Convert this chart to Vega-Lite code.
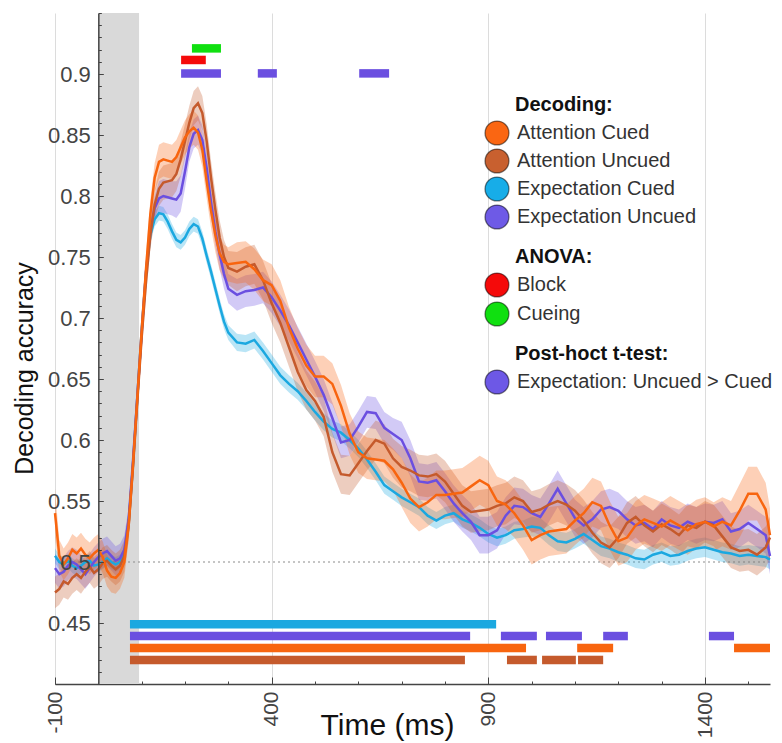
{
"$schema":"https://vega.github.io/schema/vega-lite/v6.json",
"width":715,"height":671,
"autosize":{"type":"none"},
"padding":{"left":55,"top":13,"right":12,"bottom":59},
"config":{"view":{"stroke":null},"font":"Liberation Sans",
 "legend":{"orient":"none","titleFontSize":20,"titleFontWeight":"bold","titleColor":"#111","labelFontSize":20,"labelColor":"#333","symbolType":"circle","symbolSize":570,"symbolStrokeColor":"rgba(0,0,0,0.5)","symbolStrokeWidth":1.3,"symbolOpacity":1,"rowPadding":0,"titlePadding":5,"labelLimit":400,"titleLimit":400,"symbolOffset":-31,"labelOffset":7}},
"datasets":{
"stim":[{"a":0,"b":94}],
"curves":[
{"t":-100,"s":"EC","m":0.505,"e":0.006},{"t":-90,"s":"EC","m":0.500,"e":0.006},{"t":-80,"s":"EC","m":0.498,"e":0.006},{"t":-70,"s":"EC","m":0.501,"e":0.006},{"t":-60,"s":"EC","m":0.497,"e":0.006},{"t":-50,"s":"EC","m":0.495,"e":0.006},{"t":-40,"s":"EC","m":0.497,"e":0.006},{"t":-30,"s":"EC","m":0.500,"e":0.006},{"t":-20,"s":"EC","m":0.501,"e":0.006},{"t":-10,"s":"EC","m":0.497,"e":0.006},{"t":0,"s":"EC","m":0.498,"e":0.006},{"t":10,"s":"EC","m":0.500,"e":0.006},{"t":20,"s":"EC","m":0.503,"e":0.006},{"t":30,"s":"EC","m":0.500,"e":0.006},{"t":40,"s":"EC","m":0.498,"e":0.006},{"t":50,"s":"EC","m":0.500,"e":0.006},{"t":60,"s":"EC","m":0.506,"e":0.006},{"t":70,"s":"EC","m":0.532,"e":0.006},{"t":80,"s":"EC","m":0.580,"e":0.006},{"t":90,"s":"EC","m":0.635,"e":0.006},{"t":100,"s":"EC","m":0.690,"e":0.006},{"t":110,"s":"EC","m":0.737,"e":0.006},{"t":120,"s":"EC","m":0.768,"e":0.006},{"t":130,"s":"EC","m":0.781,"e":0.006},{"t":140,"s":"EC","m":0.786,"e":0.006},{"t":150,"s":"EC","m":0.785,"e":0.006},{"t":160,"s":"EC","m":0.779,"e":0.006},{"t":170,"s":"EC","m":0.771,"e":0.006},{"t":180,"s":"EC","m":0.764,"e":0.006},{"t":190,"s":"EC","m":0.762,"e":0.006},{"t":200,"s":"EC","m":0.766,"e":0.006},{"t":210,"s":"EC","m":0.773,"e":0.006},{"t":220,"s":"EC","m":0.777,"e":0.006},{"t":230,"s":"EC","m":0.775,"e":0.006},{"t":240,"s":"EC","m":0.765,"e":0.006},{"t":250,"s":"EC","m":0.751,"e":0.006},{"t":260,"s":"EC","m":0.738,"e":0.006},{"t":270,"s":"EC","m":0.724,"e":0.006},{"t":280,"s":"EC","m":0.710,"e":0.006},{"t":290,"s":"EC","m":0.697,"e":0.006},{"t":300,"s":"EC","m":0.688,"e":0.006},{"t":320,"s":"EC","m":0.680,"e":0.007},{"t":340,"s":"EC","m":0.679,"e":0.007},{"t":360,"s":"EC","m":0.682,"e":0.007},{"t":380,"s":"EC","m":0.673,"e":0.007},{"t":400,"s":"EC","m":0.663,"e":0.007},{"t":420,"s":"EC","m":0.653,"e":0.007},{"t":440,"s":"EC","m":0.646,"e":0.007},{"t":460,"s":"EC","m":0.640,"e":0.007},{"t":480,"s":"EC","m":0.632,"e":0.007},{"t":500,"s":"EC","m":0.623,"e":0.007},{"t":520,"s":"EC","m":0.615,"e":0.007},{"t":540,"s":"EC","m":0.609,"e":0.007},{"t":560,"s":"EC","m":0.606,"e":0.007},{"t":580,"s":"EC","m":0.600,"e":0.007},{"t":600,"s":"EC","m":0.593,"e":0.007},{"t":620,"s":"EC","m":0.584,"e":0.007},{"t":640,"s":"EC","m":0.574,"e":0.007},{"t":660,"s":"EC","m":0.563,"e":0.007},{"t":680,"s":"EC","m":0.558,"e":0.007},{"t":700,"s":"EC","m":0.553,"e":0.007},{"t":720,"s":"EC","m":0.549,"e":0.007},{"t":740,"s":"EC","m":0.545,"e":0.007},{"t":760,"s":"EC","m":0.538,"e":0.007},{"t":780,"s":"EC","m":0.534,"e":0.007},{"t":800,"s":"EC","m":0.538,"e":0.007},{"t":820,"s":"EC","m":0.540,"e":0.007},{"t":840,"s":"EC","m":0.535,"e":0.007},{"t":860,"s":"EC","m":0.532,"e":0.007},{"t":880,"s":"EC","m":0.528,"e":0.007},{"t":900,"s":"EC","m":0.523,"e":0.007},{"t":920,"s":"EC","m":0.520,"e":0.007},{"t":940,"s":"EC","m":0.522,"e":0.007},{"t":960,"s":"EC","m":0.526,"e":0.007},{"t":980,"s":"EC","m":0.527,"e":0.007},{"t":1000,"s":"EC","m":0.529,"e":0.008},{"t":1020,"s":"EC","m":0.528,"e":0.008},{"t":1040,"s":"EC","m":0.522,"e":0.008},{"t":1060,"s":"EC","m":0.517,"e":0.008},{"t":1080,"s":"EC","m":0.516,"e":0.008},{"t":1100,"s":"EC","m":0.519,"e":0.008},{"t":1120,"s":"EC","m":0.523,"e":0.008},{"t":1140,"s":"EC","m":0.518,"e":0.008},{"t":1160,"s":"EC","m":0.513,"e":0.008},{"t":1180,"s":"EC","m":0.511,"e":0.008},{"t":1200,"s":"EC","m":0.508,"e":0.008},{"t":1220,"s":"EC","m":0.506,"e":0.008},{"t":1240,"s":"EC","m":0.503,"e":0.008},{"t":1260,"s":"EC","m":0.502,"e":0.008},{"t":1280,"s":"EC","m":0.506,"e":0.008},{"t":1300,"s":"EC","m":0.508,"e":0.008},{"t":1320,"s":"EC","m":0.505,"e":0.008},{"t":1340,"s":"EC","m":0.506,"e":0.008},{"t":1360,"s":"EC","m":0.509,"e":0.008},{"t":1380,"s":"EC","m":0.511,"e":0.008},{"t":1400,"s":"EC","m":0.512,"e":0.008},{"t":1420,"s":"EC","m":0.510,"e":0.008},{"t":1440,"s":"EC","m":0.508,"e":0.008},{"t":1460,"s":"EC","m":0.507,"e":0.008},{"t":1480,"s":"EC","m":0.505,"e":0.008},{"t":1500,"s":"EC","m":0.506,"e":0.008},{"t":1520,"s":"EC","m":0.505,"e":0.008},{"t":1540,"s":"EC","m":0.504,"e":0.008},{"t":1550,"s":"EC","m":0.502,"e":0.008},
{"t":-100,"s":"EU","m":0.495,"e":0.012},{"t":-90,"s":"EU","m":0.490,"e":0.012},{"t":-80,"s":"EU","m":0.492,"e":0.012},{"t":-70,"s":"EU","m":0.497,"e":0.012},{"t":-60,"s":"EU","m":0.500,"e":0.012},{"t":-50,"s":"EU","m":0.498,"e":0.012},{"t":-40,"s":"EU","m":0.494,"e":0.012},{"t":-30,"s":"EU","m":0.490,"e":0.012},{"t":-20,"s":"EU","m":0.495,"e":0.012},{"t":-10,"s":"EU","m":0.500,"e":0.012},{"t":0,"s":"EU","m":0.504,"e":0.012},{"t":10,"s":"EU","m":0.507,"e":0.012},{"t":20,"s":"EU","m":0.509,"e":0.012},{"t":30,"s":"EU","m":0.505,"e":0.012},{"t":40,"s":"EU","m":0.501,"e":0.012},{"t":50,"s":"EU","m":0.503,"e":0.012},{"t":60,"s":"EU","m":0.510,"e":0.012},{"t":70,"s":"EU","m":0.535,"e":0.010},{"t":80,"s":"EU","m":0.583,"e":0.010},{"t":90,"s":"EU","m":0.636,"e":0.010},{"t":100,"s":"EU","m":0.688,"e":0.010},{"t":110,"s":"EU","m":0.738,"e":0.010},{"t":120,"s":"EU","m":0.772,"e":0.010},{"t":130,"s":"EU","m":0.790,"e":0.010},{"t":140,"s":"EU","m":0.798,"e":0.014},{"t":150,"s":"EU","m":0.800,"e":0.014},{"t":160,"s":"EU","m":0.799,"e":0.014},{"t":170,"s":"EU","m":0.798,"e":0.014},{"t":180,"s":"EU","m":0.797,"e":0.015},{"t":190,"s":"EU","m":0.802,"e":0.015},{"t":200,"s":"EU","m":0.820,"e":0.014},{"t":210,"s":"EU","m":0.840,"e":0.012},{"t":220,"s":"EU","m":0.851,"e":0.012},{"t":230,"s":"EU","m":0.854,"e":0.012},{"t":240,"s":"EU","m":0.846,"e":0.012},{"t":250,"s":"EU","m":0.823,"e":0.012},{"t":260,"s":"EU","m":0.795,"e":0.012},{"t":270,"s":"EU","m":0.771,"e":0.012},{"t":280,"s":"EU","m":0.752,"e":0.012},{"t":290,"s":"EU","m":0.736,"e":0.012},{"t":300,"s":"EU","m":0.724,"e":0.012},{"t":320,"s":"EU","m":0.719,"e":0.013},{"t":340,"s":"EU","m":0.722,"e":0.013},{"t":360,"s":"EU","m":0.723,"e":0.013},{"t":380,"s":"EU","m":0.725,"e":0.013},{"t":400,"s":"EU","m":0.717,"e":0.013},{"t":420,"s":"EU","m":0.706,"e":0.013},{"t":440,"s":"EU","m":0.694,"e":0.013},{"t":460,"s":"EU","m":0.680,"e":0.013},{"t":480,"s":"EU","m":0.666,"e":0.013},{"t":500,"s":"EU","m":0.652,"e":0.013},{"t":520,"s":"EU","m":0.637,"e":0.013},{"t":540,"s":"EU","m":0.618,"e":0.013},{"t":560,"s":"EU","m":0.598,"e":0.013},{"t":580,"s":"EU","m":0.600,"e":0.013},{"t":600,"s":"EU","m":0.611,"e":0.013},{"t":620,"s":"EU","m":0.623,"e":0.013},{"t":640,"s":"EU","m":0.622,"e":0.013},{"t":660,"s":"EU","m":0.610,"e":0.013},{"t":680,"s":"EU","m":0.605,"e":0.013},{"t":700,"s":"EU","m":0.600,"e":0.015},{"t":720,"s":"EU","m":0.585,"e":0.015},{"t":740,"s":"EU","m":0.566,"e":0.015},{"t":760,"s":"EU","m":0.565,"e":0.015},{"t":780,"s":"EU","m":0.567,"e":0.015},{"t":800,"s":"EU","m":0.558,"e":0.015},{"t":820,"s":"EU","m":0.548,"e":0.015},{"t":840,"s":"EU","m":0.540,"e":0.015},{"t":860,"s":"EU","m":0.533,"e":0.015},{"t":880,"s":"EU","m":0.522,"e":0.015},{"t":900,"s":"EU","m":0.522,"e":0.015},{"t":920,"s":"EU","m":0.526,"e":0.015},{"t":940,"s":"EU","m":0.538,"e":0.015},{"t":960,"s":"EU","m":0.546,"e":0.015},{"t":980,"s":"EU","m":0.545,"e":0.015},{"t":1000,"s":"EU","m":0.540,"e":0.015},{"t":1020,"s":"EU","m":0.537,"e":0.015},{"t":1040,"s":"EU","m":0.548,"e":0.015},{"t":1060,"s":"EU","m":0.560,"e":0.015},{"t":1080,"s":"EU","m":0.548,"e":0.015},{"t":1100,"s":"EU","m":0.536,"e":0.015},{"t":1120,"s":"EU","m":0.530,"e":0.015},{"t":1140,"s":"EU","m":0.535,"e":0.015},{"t":1160,"s":"EU","m":0.543,"e":0.015},{"t":1180,"s":"EU","m":0.545,"e":0.015},{"t":1200,"s":"EU","m":0.542,"e":0.015},{"t":1220,"s":"EU","m":0.535,"e":0.015},{"t":1240,"s":"EU","m":0.530,"e":0.015},{"t":1260,"s":"EU","m":0.532,"e":0.015},{"t":1280,"s":"EU","m":0.527,"e":0.015},{"t":1300,"s":"EU","m":0.535,"e":0.015},{"t":1320,"s":"EU","m":0.530,"e":0.015},{"t":1340,"s":"EU","m":0.528,"e":0.015},{"t":1360,"s":"EU","m":0.533,"e":0.015},{"t":1380,"s":"EU","m":0.530,"e":0.015},{"t":1400,"s":"EU","m":0.533,"e":0.015},{"t":1420,"s":"EU","m":0.532,"e":0.015},{"t":1440,"s":"EU","m":0.535,"e":0.015},{"t":1460,"s":"EU","m":0.525,"e":0.015},{"t":1480,"s":"EU","m":0.527,"e":0.015},{"t":1500,"s":"EU","m":0.532,"e":0.015},{"t":1520,"s":"EU","m":0.527,"e":0.015},{"t":1540,"s":"EU","m":0.522,"e":0.015},{"t":1550,"s":"EU","m":0.505,"e":0.015},
{"t":-100,"s":"AU","m":0.475,"e":0.013},{"t":-90,"s":"AU","m":0.478,"e":0.013},{"t":-80,"s":"AU","m":0.484,"e":0.013},{"t":-70,"s":"AU","m":0.482,"e":0.013},{"t":-60,"s":"AU","m":0.487,"e":0.013},{"t":-50,"s":"AU","m":0.490,"e":0.013},{"t":-40,"s":"AU","m":0.487,"e":0.013},{"t":-30,"s":"AU","m":0.492,"e":0.013},{"t":-20,"s":"AU","m":0.496,"e":0.013},{"t":-10,"s":"AU","m":0.491,"e":0.013},{"t":0,"s":"AU","m":0.494,"e":0.013},{"t":10,"s":"AU","m":0.499,"e":0.013},{"t":20,"s":"AU","m":0.501,"e":0.013},{"t":30,"s":"AU","m":0.497,"e":0.013},{"t":40,"s":"AU","m":0.494,"e":0.013},{"t":50,"s":"AU","m":0.497,"e":0.013},{"t":60,"s":"AU","m":0.505,"e":0.013},{"t":70,"s":"AU","m":0.530,"e":0.012},{"t":80,"s":"AU","m":0.578,"e":0.012},{"t":90,"s":"AU","m":0.632,"e":0.012},{"t":100,"s":"AU","m":0.684,"e":0.012},{"t":110,"s":"AU","m":0.730,"e":0.012},{"t":120,"s":"AU","m":0.768,"e":0.012},{"t":130,"s":"AU","m":0.793,"e":0.012},{"t":140,"s":"AU","m":0.806,"e":0.014},{"t":150,"s":"AU","m":0.811,"e":0.014},{"t":160,"s":"AU","m":0.812,"e":0.014},{"t":170,"s":"AU","m":0.813,"e":0.014},{"t":180,"s":"AU","m":0.818,"e":0.014},{"t":190,"s":"AU","m":0.830,"e":0.014},{"t":200,"s":"AU","m":0.845,"e":0.014},{"t":210,"s":"AU","m":0.860,"e":0.014},{"t":220,"s":"AU","m":0.872,"e":0.014},{"t":230,"s":"AU","m":0.876,"e":0.014},{"t":240,"s":"AU","m":0.868,"e":0.014},{"t":250,"s":"AU","m":0.845,"e":0.014},{"t":260,"s":"AU","m":0.815,"e":0.014},{"t":270,"s":"AU","m":0.789,"e":0.014},{"t":280,"s":"AU","m":0.766,"e":0.014},{"t":290,"s":"AU","m":0.750,"e":0.014},{"t":300,"s":"AU","m":0.741,"e":0.014},{"t":320,"s":"AU","m":0.738,"e":0.016},{"t":340,"s":"AU","m":0.742,"e":0.016},{"t":360,"s":"AU","m":0.744,"e":0.016},{"t":380,"s":"AU","m":0.731,"e":0.016},{"t":400,"s":"AU","m":0.712,"e":0.016},{"t":420,"s":"AU","m":0.696,"e":0.016},{"t":440,"s":"AU","m":0.676,"e":0.016},{"t":460,"s":"AU","m":0.656,"e":0.016},{"t":480,"s":"AU","m":0.641,"e":0.016},{"t":500,"s":"AU","m":0.632,"e":0.016},{"t":520,"s":"AU","m":0.619,"e":0.016},{"t":540,"s":"AU","m":0.590,"e":0.016},{"t":560,"s":"AU","m":0.572,"e":0.016},{"t":580,"s":"AU","m":0.571,"e":0.016},{"t":600,"s":"AU","m":0.581,"e":0.016},{"t":620,"s":"AU","m":0.591,"e":0.016},{"t":640,"s":"AU","m":0.600,"e":0.016},{"t":660,"s":"AU","m":0.597,"e":0.016},{"t":680,"s":"AU","m":0.585,"e":0.016},{"t":700,"s":"AU","m":0.578,"e":0.017},{"t":720,"s":"AU","m":0.575,"e":0.017},{"t":740,"s":"AU","m":0.571,"e":0.017},{"t":760,"s":"AU","m":0.570,"e":0.017},{"t":780,"s":"AU","m":0.572,"e":0.017},{"t":800,"s":"AU","m":0.566,"e":0.017},{"t":820,"s":"AU","m":0.556,"e":0.017},{"t":840,"s":"AU","m":0.546,"e":0.017},{"t":860,"s":"AU","m":0.541,"e":0.017},{"t":880,"s":"AU","m":0.542,"e":0.017},{"t":900,"s":"AU","m":0.543,"e":0.017},{"t":920,"s":"AU","m":0.546,"e":0.017},{"t":940,"s":"AU","m":0.548,"e":0.017},{"t":960,"s":"AU","m":0.553,"e":0.017},{"t":980,"s":"AU","m":0.550,"e":0.017},{"t":1000,"s":"AU","m":0.541,"e":0.017},{"t":1020,"s":"AU","m":0.543,"e":0.017},{"t":1040,"s":"AU","m":0.547,"e":0.017},{"t":1060,"s":"AU","m":0.550,"e":0.017},{"t":1080,"s":"AU","m":0.547,"e":0.017},{"t":1100,"s":"AU","m":0.542,"e":0.017},{"t":1120,"s":"AU","m":0.534,"e":0.017},{"t":1140,"s":"AU","m":0.524,"e":0.017},{"t":1160,"s":"AU","m":0.516,"e":0.017},{"t":1180,"s":"AU","m":0.512,"e":0.017},{"t":1200,"s":"AU","m":0.520,"e":0.017},{"t":1220,"s":"AU","m":0.532,"e":0.017},{"t":1240,"s":"AU","m":0.537,"e":0.017},{"t":1260,"s":"AU","m":0.530,"e":0.017},{"t":1280,"s":"AU","m":0.525,"e":0.017},{"t":1300,"s":"AU","m":0.531,"e":0.017},{"t":1320,"s":"AU","m":0.527,"e":0.017},{"t":1340,"s":"AU","m":0.522,"e":0.017},{"t":1360,"s":"AU","m":0.530,"e":0.017},{"t":1380,"s":"AU","m":0.528,"e":0.017},{"t":1400,"s":"AU","m":0.533,"e":0.017},{"t":1420,"s":"AU","m":0.530,"e":0.017},{"t":1440,"s":"AU","m":0.521,"e":0.017},{"t":1460,"s":"AU","m":0.512,"e":0.017},{"t":1480,"s":"AU","m":0.509,"e":0.017},{"t":1500,"s":"AU","m":0.510,"e":0.017},{"t":1520,"s":"AU","m":0.506,"e":0.017},{"t":1540,"s":"AU","m":0.512,"e":0.017},{"t":1550,"s":"AU","m":0.520,"e":0.017},
{"t":-100,"s":"AC","m":0.540,"e":0.020},{"t":-90,"s":"AC","m":0.505,"e":0.013},{"t":-80,"s":"AC","m":0.498,"e":0.013},{"t":-70,"s":"AC","m":0.503,"e":0.013},{"t":-60,"s":"AC","m":0.510,"e":0.013},{"t":-50,"s":"AC","m":0.507,"e":0.013},{"t":-40,"s":"AC","m":0.511,"e":0.013},{"t":-30,"s":"AC","m":0.506,"e":0.013},{"t":-20,"s":"AC","m":0.503,"e":0.013},{"t":-10,"s":"AC","m":0.507,"e":0.013},{"t":0,"s":"AC","m":0.510,"e":0.013},{"t":10,"s":"AC","m":0.504,"e":0.013},{"t":20,"s":"AC","m":0.493,"e":0.013},{"t":30,"s":"AC","m":0.488,"e":0.013},{"t":40,"s":"AC","m":0.487,"e":0.013},{"t":50,"s":"AC","m":0.491,"e":0.013},{"t":60,"s":"AC","m":0.500,"e":0.013},{"t":70,"s":"AC","m":0.530,"e":0.012},{"t":80,"s":"AC","m":0.580,"e":0.012},{"t":90,"s":"AC","m":0.635,"e":0.012},{"t":100,"s":"AC","m":0.690,"e":0.012},{"t":110,"s":"AC","m":0.740,"e":0.012},{"t":120,"s":"AC","m":0.785,"e":0.012},{"t":130,"s":"AC","m":0.815,"e":0.012},{"t":140,"s":"AC","m":0.828,"e":0.014},{"t":150,"s":"AC","m":0.830,"e":0.014},{"t":160,"s":"AC","m":0.829,"e":0.014},{"t":170,"s":"AC","m":0.828,"e":0.014},{"t":180,"s":"AC","m":0.832,"e":0.014},{"t":190,"s":"AC","m":0.840,"e":0.014},{"t":200,"s":"AC","m":0.848,"e":0.014},{"t":210,"s":"AC","m":0.853,"e":0.014},{"t":220,"s":"AC","m":0.856,"e":0.014},{"t":230,"s":"AC","m":0.852,"e":0.014},{"t":240,"s":"AC","m":0.838,"e":0.014},{"t":250,"s":"AC","m":0.812,"e":0.014},{"t":260,"s":"AC","m":0.788,"e":0.014},{"t":270,"s":"AC","m":0.768,"e":0.014},{"t":280,"s":"AC","m":0.753,"e":0.014},{"t":290,"s":"AC","m":0.746,"e":0.014},{"t":300,"s":"AC","m":0.744,"e":0.014},{"t":320,"s":"AC","m":0.745,"e":0.017},{"t":340,"s":"AC","m":0.746,"e":0.017},{"t":360,"s":"AC","m":0.740,"e":0.017},{"t":380,"s":"AC","m":0.731,"e":0.017},{"t":400,"s":"AC","m":0.727,"e":0.017},{"t":420,"s":"AC","m":0.714,"e":0.017},{"t":440,"s":"AC","m":0.692,"e":0.017},{"t":460,"s":"AC","m":0.675,"e":0.017},{"t":480,"s":"AC","m":0.661,"e":0.017},{"t":500,"s":"AC","m":0.652,"e":0.017},{"t":520,"s":"AC","m":0.652,"e":0.017},{"t":540,"s":"AC","m":0.646,"e":0.017},{"t":560,"s":"AC","m":0.628,"e":0.017},{"t":580,"s":"AC","m":0.605,"e":0.017},{"t":600,"s":"AC","m":0.590,"e":0.017},{"t":620,"s":"AC","m":0.585,"e":0.017},{"t":640,"s":"AC","m":0.584,"e":0.017},{"t":660,"s":"AC","m":0.583,"e":0.017},{"t":680,"s":"AC","m":0.576,"e":0.017},{"t":700,"s":"AC","m":0.565,"e":0.020},{"t":720,"s":"AC","m":0.552,"e":0.020},{"t":740,"s":"AC","m":0.545,"e":0.020},{"t":760,"s":"AC","m":0.549,"e":0.020},{"t":780,"s":"AC","m":0.555,"e":0.020},{"t":800,"s":"AC","m":0.555,"e":0.020},{"t":820,"s":"AC","m":0.556,"e":0.020},{"t":840,"s":"AC","m":0.557,"e":0.020},{"t":860,"s":"AC","m":0.562,"e":0.020},{"t":880,"s":"AC","m":0.567,"e":0.020},{"t":900,"s":"AC","m":0.563,"e":0.020},{"t":920,"s":"AC","m":0.550,"e":0.020},{"t":940,"s":"AC","m":0.547,"e":0.020},{"t":960,"s":"AC","m":0.540,"e":0.020},{"t":980,"s":"AC","m":0.530,"e":0.020},{"t":1000,"s":"AC","m":0.518,"e":0.020},{"t":1020,"s":"AC","m":0.522,"e":0.020},{"t":1040,"s":"AC","m":0.525,"e":0.020},{"t":1060,"s":"AC","m":0.526,"e":0.020},{"t":1080,"s":"AC","m":0.527,"e":0.020},{"t":1100,"s":"AC","m":0.534,"e":0.020},{"t":1120,"s":"AC","m":0.540,"e":0.020},{"t":1140,"s":"AC","m":0.549,"e":0.020},{"t":1160,"s":"AC","m":0.546,"e":0.020},{"t":1180,"s":"AC","m":0.530,"e":0.020},{"t":1200,"s":"AC","m":0.517,"e":0.020},{"t":1220,"s":"AC","m":0.520,"e":0.020},{"t":1240,"s":"AC","m":0.530,"e":0.020},{"t":1260,"s":"AC","m":0.535,"e":0.020},{"t":1280,"s":"AC","m":0.532,"e":0.020},{"t":1300,"s":"AC","m":0.529,"e":0.020},{"t":1320,"s":"AC","m":0.534,"e":0.020},{"t":1340,"s":"AC","m":0.530,"e":0.020},{"t":1360,"s":"AC","m":0.526,"e":0.020},{"t":1380,"s":"AC","m":0.531,"e":0.020},{"t":1400,"s":"AC","m":0.533,"e":0.020},{"t":1420,"s":"AC","m":0.529,"e":0.020},{"t":1440,"s":"AC","m":0.533,"e":0.020},{"t":1460,"s":"AC","m":0.530,"e":0.020},{"t":1480,"s":"AC","m":0.542,"e":0.022},{"t":1500,"s":"AC","m":0.556,"e":0.022},{"t":1520,"s":"AC","m":0.556,"e":0.022},{"t":1540,"s":"AC","m":0.543,"e":0.022},{"t":1550,"s":"AC","m":0.522,"e":0.022}
],
"bot":[
{"g":"EC","a":73,"b":918,"lvl":0.449},
{"g":"EU","a":73,"b":858,"lvl":0.4393},{"g":"EU","a":929,"b":1012,"lvl":0.4393},{"g":"EU","a":1033,"b":1116,"lvl":0.4393},{"g":"EU","a":1165,"b":1222,"lvl":0.4393},{"g":"EU","a":1409,"b":1467,"lvl":0.4393},
{"g":"AC","a":73,"b":987,"lvl":0.4295},{"g":"AC","a":1105,"b":1188,"lvl":0.4295},{"g":"AC","a":1467,"b":1550,"lvl":0.4295},
{"g":"AU","a":73,"b":846,"lvl":0.4197},{"g":"AU","a":943,"b":1012,"lvl":0.4197},{"g":"AU","a":1024,"b":1102,"lvl":0.4197},{"g":"AU","a":1107,"b":1165,"lvl":0.4197}
],
"anova":[{"g":"Block","a":191,"b":248,"lvl":0.9115},{"g":"Cueing","a":216,"b":283,"lvl":0.921}],
"ph":[{"g":"Expectation: Uncued > Cued","a":191,"b":283,"lvl":0.9005},{"g":"Expectation: Uncued > Cued","a":368,"b":412,"lvl":0.9005},{"g":"Expectation: Uncued > Cued","a":602,"b":671,"lvl":0.9005}]
},
"layer":[
{"data":{"name":"stim"},"mark":{"type":"rect","color":"#d9d9d9"},
 "encoding":{"x":{"field":"a","type":"quantitative","axis":null},"x2":{"field":"b"}}},
{"data":{"values":[{}]},"mark":{"type":"rule","color":"#8c8c8c","strokeWidth":1.2,"strokeDash":[2,3]},
 "encoding":{"y":{"datum":0.5,"type":"quantitative","axis":null}}},
{"data":{"name":"curves"},"mark":{"type":"errorband","band":{"opacity":0.3}},
 "encoding":{"x":{"field":"t","type":"quantitative","axis":null},"y":{"field":"m","type":"quantitative","axis":null},"yError":{"field":"e"},
  "color":{"field":"s","type":"nominal","legend":null}}},
{"data":{"name":"curves"},"mark":{"type":"line","strokeWidth":2.5},
 "encoding":{
  "x":{"field":"t","type":"quantitative","scale":{"domain":[-100,1550],"nice":false,"zero":false},
   "axis":{"orient":"bottom","values":[-100,400,900,1400],"labelExpr":"'' + datum.value","labelAngle":270,"labelFontSize":21,"labelColor":"#444","labelFlush":false,"labelOverlap":false,"labelPadding":14,"tickSize":-7,"tickColor":"#444","domainColor":"#444","domainWidth":1.5,"grid":true,"gridColor":"#dcdcdc","gridWidth":1,"title":"Time (ms)","titleFontSize":30,"titleFontWeight":"normal","titleColor":"#111","titleX":332,"titleY":50,"titleAlign":"center","titleBaseline":"alphabetic"}},
  "y":{"field":"m","type":"quantitative","scale":{"domain":[0.4,0.95],"nice":false,"zero":false},
   "axis":{"orient":"left","offset":-43.33,"zindex":1,"values":[0.45,0.5,0.55,0.6,0.65,0.7,0.75,0.8,0.85,0.9],"labelExpr":"'' + datum.value","labelFontSize":22,"labelColor":"#444","labelPadding":13,"tickSize":-5,"tickColor":"#444","domainColor":"#444","domainWidth":1.5,"grid":false,"title":"Decoding accuracy","titleFontSize":25,"titleFontWeight":"normal","titleColor":"#111","titleX":-74,"titleY":355,"titleAngle":270,"titleAlign":"center","titleBaseline":"middle"}},
  "color":{"field":"s","type":"nominal","scale":{"domain":["AC","AU","EC","EU"],"range":["#F8650F","#C55A2C","#1BA8E0","#6B4FE0"]},"legend":null}}},
{"data":{"name":"bot"},"mark":{"type":"rule","strokeWidth":8.5,"strokeCap":"butt"},
 "encoding":{
  "x":{"field":"a","type":"quantitative","axis":{"orient":"bottom","values":[-100,0,100,200,300,400,500,600,700,800,900,1000,1100,1200,1300,1400,1500],"labels":false,"domain":false,"grid":false,"tickSize":-3,"tickColor":"#444","title":null}},
  "x2":{"field":"b"},
  "y":{"field":"lvl","type":"quantitative","axis":{"orient":"left","offset":-43.33,"zindex":1,"values":[0.4,0.41,0.42,0.43,0.44,0.45,0.46,0.47,0.48,0.49,0.5,0.51,0.52,0.53,0.54,0.55,0.56,0.57,0.58,0.59,0.6,0.61,0.62,0.63,0.64,0.65,0.66,0.67,0.68,0.69,0.7,0.71,0.72,0.73,0.74,0.75,0.76,0.77,0.78,0.79,0.8,0.81,0.82,0.83,0.84,0.85,0.86,0.87,0.88,0.89,0.9,0.91,0.92,0.93,0.94,0.95],"labels":false,"domain":false,"grid":false,"tickSize":-3,"tickColor":"#444","title":null}},
  "color":{"field":"g","type":"nominal","legend":null},
  "fill":{"field":"g","type":"nominal","scale":{"domain":["AC","AU","EC","EU"],"range":["#FA6612","#C8602F","#17ADE8","#6E5AE6"]},
   "legend":{"title":"Decoding:","legendX":460,"legendY":82,"rowPadding":-3,"labelExpr":"{'AC':'Attention Cued','AU':'Attention Uncued','EC':'Expectation Cued','EU':'Expectation Uncued'}[datum.label]"}}}},
{"data":{"name":"anova"},"mark":{"type":"rule","strokeWidth":8.5,"strokeCap":"butt"},
 "encoding":{
  "x":{"field":"a","type":"quantitative","axis":null},"x2":{"field":"b"},
  "y":{"field":"lvl","type":"quantitative","axis":null},
  "stroke":{"field":"g","type":"nominal","scale":{"domain":["Block","Cueing"],"range":["#F50A0A","#10E010"]},"legend":null},
  "fill":{"field":"g","type":"nominal","scale":{"domain":["Block","Cueing"],"range":["#F50A0A","#10E010"]},
   "legend":{"title":"ANOVA:","legendX":460,"legendY":234,"rowPadding":-1}}}},
{"data":{"name":"ph"},"mark":{"type":"rule","strokeWidth":8.5,"strokeCap":"butt","color":"#6B4FE0"},
 "encoding":{
  "x":{"field":"a","type":"quantitative","axis":null},"x2":{"field":"b"},
  "y":{"field":"lvl","type":"quantitative","axis":null},
  "fill":{"field":"g","type":"nominal","scale":{"domain":["Expectation: Uncued > Cued"],"range":["#6D58E6"]},
   "legend":{"title":"Post-hoct t-test:","legendX":460,"legendY":331}}}}
],
"resolve":{"axis":{"x":"independent","y":"independent"},"scale":{"fill":"independent"},"legend":{"fill":"independent"}}
}
